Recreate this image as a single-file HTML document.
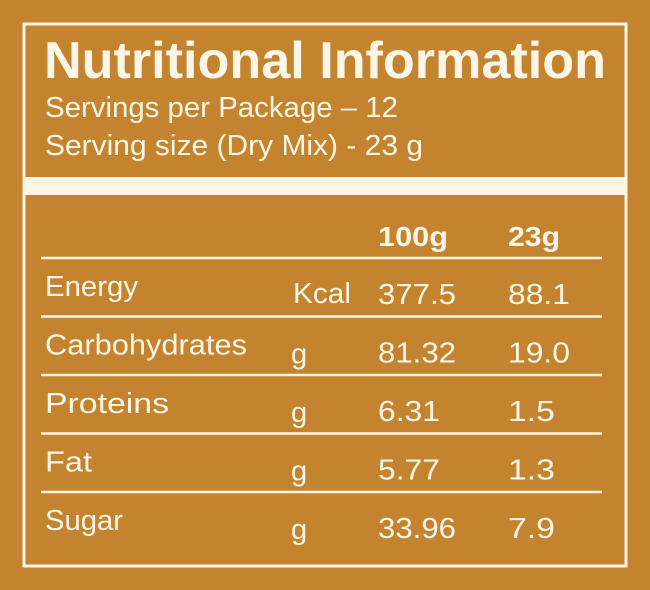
<!DOCTYPE html>
<html><head><meta charset="utf-8"><style>
html,body{margin:0;padding:0;background:#c4842f;}
svg{display:block;font-family:"Liberation Sans",sans-serif;}
text{fill:#fdf5e6;}
</style></head><body>
<svg width="650" height="590" viewBox="0 0 650 590">
<rect x="0" y="0" width="650" height="590" fill="#c4842f"/>
<rect x="24" y="24" width="602" height="542" fill="none" stroke="#fdf5e6" stroke-width="3"/>
<rect x="24" y="177" width="602" height="18" fill="#fdf5e6"/>
<text x="44" y="78" font-size="52" font-weight="bold" textLength="562" lengthAdjust="spacingAndGlyphs">Nutritional Information</text>
<text x="45" y="117" font-size="29" textLength="353" lengthAdjust="spacingAndGlyphs">Servings per Package – 12</text>
<text x="45" y="155" font-size="29" textLength="378" lengthAdjust="spacingAndGlyphs">Serving size (Dry Mix) - 23 g</text>
<text x="378" y="246" font-size="28" font-weight="bold" textLength="70" lengthAdjust="spacingAndGlyphs">100g</text>
<text x="508" y="246" font-size="28" font-weight="bold" textLength="52" lengthAdjust="spacingAndGlyphs">23g</text>
<g id="rows"></g>
</svg>
<script>
const names=["Energy","Carbohydrates","Proteins","Fat","Sugar"];
const units=["Kcal","g","g","g","g"];
const per100=["377.5","81.32","6.31","5.77","33.96"];
const perServing=["88.1","19.0","1.5","1.3","7.9"];
const NS="http://www.w3.org/2000/svg";
const g=document.getElementById("rows");
function t(x,y,s,name,scale){
  const e=document.createElementNS(NS,"text");
  e.setAttribute("x",x);e.setAttribute("y",y);e.setAttribute("font-size","29");
  if(scale){e.setAttribute("textLength",Math.round(s.length*scale));e.setAttribute("lengthAdjust","spacingAndGlyphs");}
  e.textContent=s;
  
  
  g.appendChild(e);
}
function line(y,i){
  const l=document.createElementNS(NS,"line");
  l.setAttribute("x1",41);l.setAttribute("x2",602);l.setAttribute("y1",y);l.setAttribute("y2",y);
  l.setAttribute("stroke","#fdf5e6");l.setAttribute("stroke-width","2.5");
  
  
  g.appendChild(l);
}
const top0=258,rowH=58.5;
names.forEach((n,i)=>{
  const y0=top0+i*rowH;
  line(y0,i);
  t(45,y0+38,n,'nutrient-name',15.5);
  t(i===0?293:291,y0+(i===0?45:47),units[i],'nutrient-unit',i===0?14.5:null);
  t(378,y0+46,per100[i],'value-100g',15.5);
  t(508,y0+46,perServing[i],'value-serving',15.5);
});
</script>
</body></html>
